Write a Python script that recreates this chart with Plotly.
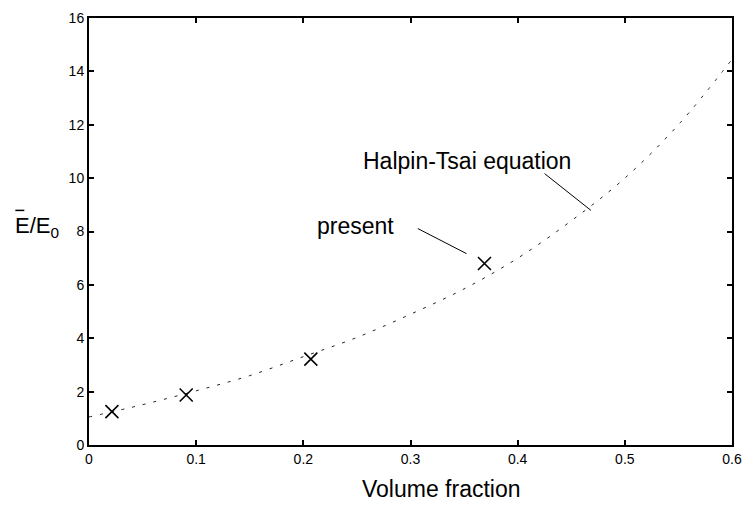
import plotly.graph_objects as go

# Halpin-Tsai curve
curve_vf = [0.0, 0.05, 0.10, 0.15, 0.20, 0.25, 0.30, 0.35, 0.40, 0.45, 0.50, 0.55, 0.60]
curve_e = [1.05, 1.51, 2.03, 2.60, 3.31, 4.03, 4.90, 5.85, 7.00, 8.40, 10.0, 12.0, 14.45]

# present results
present_vf = [0.0214, 0.0907, 0.207, 0.369]
present_e = [1.25, 1.875, 3.22, 6.80]

x_ticks = [0, 0.1, 0.2, 0.3, 0.4, 0.5, 0.6]
x_tick_labels = ["0", "0.1", "0.2", "0.3", "0.4", "0.5", "0.6"]
y_ticks = [0, 2, 4, 6, 8, 10, 12, 14, 16]
y_tick_labels = [str(v) for v in y_ticks]

FONT = "Liberation Sans, Arial, sans-serif"

fig = go.Figure()
fig.add_trace(go.Scatter(
    x=curve_vf, y=curve_e, mode="lines", line_shape="spline",
    line=dict(color="#222222", width=1, dash="3px,8px"),
    showlegend=False, hoverinfo="skip"))
fig.add_trace(go.Scatter(
    x=present_vf, y=present_e, mode="markers",
    marker=dict(symbol="x-thin-open", size=13, color="black",
                line=dict(color="black", width=1.6)),
    showlegend=False))

# leader lines
fig.add_shape(type="line", x0=0.3068, y0=8.11, x1=0.3523, y1=7.17,
              line=dict(color="black", width=1))
fig.add_shape(type="line", x0=0.4251, y0=10.17, x1=0.4684, y1=8.79,
              line=dict(color="black", width=1))

fig.add_annotation(x=0.2489, y=8.22, text="present", showarrow=False,
                   xanchor="center", yanchor="middle",
                   font=dict(family=FONT, size=23, color="black"))
fig.add_annotation(x=0.353, y=10.66, text="Halpin-Tsai equation", showarrow=False,
                   xanchor="center", yanchor="middle",
                   font=dict(family=FONT, size=23, color="black"))

# axis titles
fig.add_annotation(xref="paper", yref="paper", x=(443 - 89) / 646, y=(445 - 490) / 435,
                   xanchor="center", yanchor="middle",
                   text="Volume fraction", showarrow=False,
                   font=dict(family=FONT, size=23, color="black"))
fig.add_annotation(xref="paper", yref="paper", x=(13 - 89) / 646, y=(445 - 223) / 435,
                   xanchor="left", yanchor="middle", text="E/E<sub>0</sub>", showarrow=False,
                   font=dict(family=FONT, size=22, color="black"))
fig.add_shape(type="line", xref="paper", yref="paper",
              x0=(15 - 89) / 646, x1=(24 - 89) / 646,
              y0=(445 - 206) / 435, y1=(445 - 206) / 435,
              line=dict(color="black", width=1.5))

axis_common = dict(showgrid=False, zeroline=False, showline=True, linecolor="black",
                   linewidth=2, ticks="inside", ticklen=5, tickwidth=2, tickcolor="black",
                   mirror="ticks", tickfont=dict(family=FONT, size=14, color="black"))

fig.update_xaxes(range=[0, 0.6], tickvals=x_ticks, ticktext=x_tick_labels, **axis_common)
fig.update_yaxes(range=[0, 16], tickvals=y_ticks, ticktext=y_tick_labels, **axis_common)

fig.update_layout(width=752, height=508, margin=dict(l=89, r=17, t=10, b=63),
                  plot_bgcolor="white", paper_bgcolor="white",
                  font=dict(family=FONT, color="black"))

fig.write_html("out.html")
